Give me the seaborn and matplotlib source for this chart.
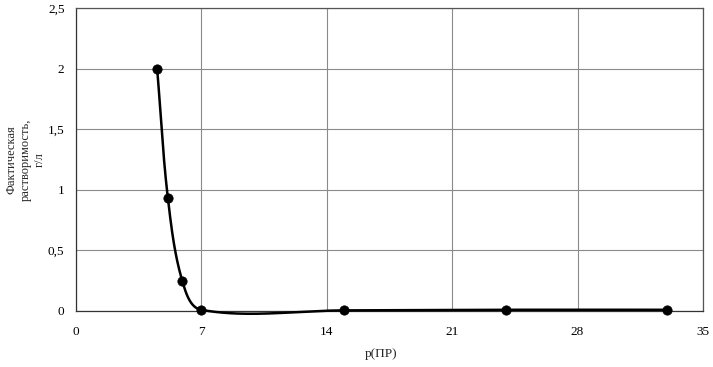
import numpy as np
import pandas as pd
import matplotlib
matplotlib.use("Agg")
import matplotlib.pyplot as plt
import seaborn as sns
from matplotlib.ticker import FuncFormatter

# Data
p_pr = [4.55, 5.15, 5.95, 7.0, 15.0, 24.0, 33.0]
solubility = [2.0, 0.93, 0.25, 0.01, 0.005, 0.01, 0.01]
x_ticks = [0, 7, 14, 21, 28, 35]
y_ticks = [0, 0.5, 1, 1.5, 2, 2.5]
x_label = "p(ПР)"
y_label = "Фактическая\nрастворимость,\nг/л"

sns.set_theme(style="white")
plt.rcParams['font.family'] = ['Liberation Serif', 'DejaVu Serif']

fig = plt.figure(figsize=(7.13, 3.67), dpi=100)
ax = fig.add_axes([0.106, 0.1526, 0.880, 0.8256])
ax.set_xlim(0, 35)
ax.set_ylim(0, 2.5)

# Smoothed line through the points (Bezier with tangents, in display space)
pts_data = np.column_stack([p_pr, solubility]).astype(float)
pts = ax.transData.transform(pts_data)
n = len(pts)
tangents = []
for i in range(n):
    a = pts[i - 1] if i > 0 else pts[i]
    b = pts[i + 1] if i + 1 < n else pts[i]
    d = b - a
    tangents.append(d / np.linalg.norm(d))
t = np.linspace(0, 1, 60)
curve = []
for i in range(n - 1):
    p0, p1 = pts[i], pts[i + 1]
    L = np.linalg.norm(p1 - p0)
    c1 = p0 + tangents[i] * L / 3.0
    c2 = p1 - tangents[i + 1] * L / 3.0
    seg = ((1 - t) ** 3)[:, None] * p0 + (3 * (1 - t) ** 2 * t)[:, None] * c1 \
        + (3 * (1 - t) * t ** 2)[:, None] * c2 + (t ** 3)[:, None] * p1
    curve.append(seg if i == 0 else seg[1:])
curve = ax.transData.inverted().transform(np.vstack(curve))
curve_df = pd.DataFrame({"x": curve[:, 0], "y": curve[:, 1]})
pts_df = pd.DataFrame({"x": p_pr, "y": solubility})

sns.lineplot(data=curve_df, x="x", y="y", sort=False, color="black", linewidth=1.8,
             ax=ax, zorder=3, clip_on=False)
sns.scatterplot(data=pts_df, x="x", y="y", color="black", s=45, edgecolor="black",
                ax=ax, zorder=4, clip_on=False)

ax.set_xlim(0, 35)
ax.set_ylim(0, 2.5)
ax.set_xticks(x_ticks)
ax.set_yticks(y_ticks)
fmt = FuncFormatter(lambda v, pos: (("%g" % v).replace(".", ",")))
ax.xaxis.set_major_formatter(fmt)
ax.yaxis.set_major_formatter(fmt)
ax.grid(True, color="#8a8a8a", linewidth=0.8)
for s in ax.spines.values():
    s.set_color("#555555")
    s.set_linewidth(0.9)
ax.spines['left'].set_color("#333333")
ax.spines['bottom'].set_color("#333333")
ax.tick_params(axis='both', labelsize=9.5, colors="black", length=3,
               color="#333333", width=0.8)
ax.tick_params(axis='y', pad=5)
ax.tick_params(axis='x', pad=8)
ax.set_xlabel("")
ax.set_ylabel("")

fig.text(381 / 713, 1 - 354 / 367, x_label, fontsize=9.5, ha="center", va="center")
fig.text(26 / 713, 1 - 160 / 367, y_label, fontsize=9, ha="center", va="center",
         rotation=90, multialignment="center", linespacing=1.25)

fig.savefig("out.png", dpi=100)
